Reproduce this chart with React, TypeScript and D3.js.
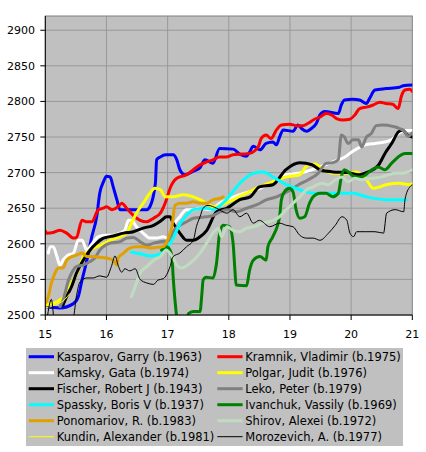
import React from "react";
import * as d3 from "d3";

type P = [number, number];

const kasparov: P[] = [[15.0,2512],[15.24,2510],[15.46,2516],[15.54,2526],[15.6,2549],[15.68,2577],[15.76,2610],[15.84,2638],[15.89,2671],[15.95,2687],[16.0,2695],[16.06,2694],[16.11,2680],[16.17,2662],[16.22,2648],[16.44,2648],[16.66,2648],[16.71,2652],[16.8,2685],[16.82,2718],[16.88,2722],[16.97,2725],[17.09,2725],[17.15,2718],[17.2,2704],[17.28,2697],[17.42,2702],[17.53,2707],[17.61,2718],[17.74,2713],[17.85,2734],[18.07,2733],[18.18,2726],[18.29,2723],[18.34,2729],[18.4,2737],[18.51,2732],[18.61,2741],[18.72,2743],[18.78,2739],[18.83,2750],[18.89,2760],[19.05,2758],[19.13,2767],[19.19,2762],[19.27,2758],[19.35,2762],[19.43,2769],[19.49,2781],[19.57,2786],[19.79,2783],[19.84,2795],[19.89,2802],[20.03,2803],[20.14,2802],[20.25,2797],[20.3,2804],[20.39,2816],[20.57,2818],[20.79,2820],[20.85,2822],[21.0,2823]];
const kramnik: P[] = [[15.0,2618],[15.02,2615],[15.13,2616],[15.24,2619],[15.35,2615],[15.46,2608],[15.51,2609],[15.6,2633],[15.68,2631],[15.76,2631],[15.87,2648],[15.95,2650],[16.0,2652],[16.09,2648],[16.19,2652],[16.25,2657],[16.33,2650],[16.44,2640],[16.55,2633],[16.66,2631],[16.77,2636],[16.88,2643],[16.98,2662],[17.04,2678],[17.15,2692],[17.31,2697],[17.42,2704],[17.53,2711],[17.64,2715],[17.74,2718],[17.85,2722],[17.96,2722],[18.07,2725],[18.23,2726],[18.34,2727],[18.48,2736],[18.53,2748],[18.61,2753],[18.69,2748],[18.78,2760],[18.86,2767],[19.0,2768],[19.1,2766],[19.21,2766],[19.29,2769],[19.4,2775],[19.49,2778],[19.59,2783],[19.68,2781],[19.76,2776],[19.87,2774],[19.98,2775],[20.06,2781],[20.14,2790],[20.25,2792],[20.36,2795],[20.47,2799],[20.57,2797],[20.68,2796],[20.77,2790],[20.82,2807],[20.88,2816],[20.96,2817],[21.0,2814]];
const kamsky: P[] = [[15.05,2587],[15.08,2596],[15.13,2596],[15.19,2582],[15.24,2570],[15.29,2577],[15.37,2584],[15.46,2587],[15.54,2605],[15.6,2605],[15.68,2591],[15.73,2596],[15.87,2610],[15.98,2612],[16.11,2612],[16.22,2615],[16.3,2619],[16.36,2633],[16.41,2633],[16.49,2624],[16.6,2615],[16.71,2608],[16.82,2608],[16.93,2610],[17.04,2605],[17.09,2624],[17.2,2638],[17.31,2648],[17.42,2648],[17.53,2650],[17.69,2648],[17.85,2657],[18.18,2669],[18.51,2678],[18.83,2692],[18.92,2697],[19.14,2699],[19.36,2704],[19.57,2711],[19.79,2718],[19.9,2722],[20.01,2729],[20.23,2739],[20.39,2741],[20.55,2743],[20.66,2746],[20.77,2755],[20.88,2759],[21.0,2759]];
const polgar: P[] = [[15.02,2514],[15.24,2521],[15.35,2530],[15.43,2545],[15.54,2563],[15.62,2582],[15.73,2591],[15.84,2596],[15.98,2601],[16.06,2605],[16.22,2610],[16.33,2615],[16.41,2629],[16.49,2643],[16.6,2657],[16.71,2671],[16.79,2678],[16.88,2676],[16.96,2666],[17.09,2666],[17.26,2669],[17.42,2666],[17.53,2662],[17.64,2657],[17.75,2652],[18.07,2662],[18.29,2671],[18.5,2680],[18.72,2687],[18.94,2694],[19.16,2697],[19.25,2707],[19.32,2711],[19.41,2712],[19.54,2704],[19.7,2699],[19.92,2699],[20.08,2701],[20.25,2690],[20.36,2678],[20.47,2680],[20.57,2683],[20.79,2685],[20.96,2683],[21.0,2685]];
const fischer: P[] = [[15.29,2514],[15.35,2526],[15.43,2540],[15.51,2559],[15.62,2577],[15.73,2591],[15.84,2601],[15.95,2608],[16.11,2611],[16.28,2615],[16.44,2617],[16.6,2622],[16.77,2626],[16.9,2633],[16.98,2638],[17.04,2638],[17.09,2629],[17.2,2615],[17.31,2605],[17.42,2605],[17.53,2610],[17.64,2619],[17.8,2645],[17.97,2650],[18.18,2662],[18.35,2666],[18.5,2680],[18.72,2683],[18.93,2704],[19.16,2714],[19.36,2711],[19.49,2704],[19.7,2701],[19.95,2700],[20.12,2697],[20.28,2701],[20.45,2711],[20.56,2728],[20.67,2742],[20.77,2757],[20.84,2760],[20.92,2753],[21.0,2750]];
const leko: P[] = [[15.24,2512],[15.29,2521],[15.38,2549],[15.43,2559],[15.51,2568],[15.62,2570],[15.73,2575],[15.81,2580],[15.89,2591],[15.98,2598],[16.06,2601],[16.22,2603],[16.33,2608],[16.44,2609],[16.55,2603],[16.66,2598],[16.77,2601],[16.88,2603],[17.04,2605],[17.09,2617],[17.2,2626],[17.31,2631],[17.42,2636],[17.64,2638],[17.75,2640],[17.86,2645],[17.97,2648],[18.13,2645],[18.29,2650],[18.46,2655],[18.62,2662],[18.78,2666],[18.95,2673],[19.14,2683],[19.3,2690],[19.46,2699],[19.59,2713],[19.7,2714],[19.79,2718],[19.84,2753],[19.89,2750],[19.95,2741],[20.03,2746],[20.12,2746],[20.17,2736],[20.25,2750],[20.33,2755],[20.41,2766],[20.52,2767],[20.68,2765],[20.79,2762],[20.88,2757],[20.93,2751],[21.0,2756]];
const spassky: P[] = [[16.41,2588],[16.55,2586],[16.71,2583],[16.88,2586],[16.98,2593],[17.09,2608],[17.2,2628],[17.31,2640],[17.42,2648],[17.64,2650],[17.74,2648],[17.96,2662],[18.18,2685],[18.4,2699],[18.56,2701],[18.72,2694],[18.94,2683],[19.16,2676],[19.38,2671],[19.7,2671],[20.03,2671],[20.25,2666],[20.57,2662],[20.9,2662]];
const ivanchuk: P[] = [[16.9,2591],[16.98,2596],[17.04,2591],[17.07,2582],[17.09,2554],[17.12,2521],[17.15,2496],[17.2,2472],[17.3,2479],[17.34,2502],[17.42,2505],[17.53,2505],[17.56,2530],[17.58,2549],[17.63,2553],[17.74,2552],[17.8,2573],[17.85,2615],[17.91,2626],[18.01,2624],[18.07,2601],[18.1,2563],[18.12,2542],[18.29,2541],[18.34,2563],[18.4,2577],[18.51,2582],[18.61,2577],[18.64,2596],[18.72,2610],[18.83,2638],[18.86,2662],[18.91,2673],[18.99,2678],[19.05,2673],[19.1,2648],[19.16,2636],[19.24,2638],[19.32,2657],[19.38,2666],[19.49,2671],[19.59,2671],[19.7,2666],[19.79,2671],[19.84,2694],[19.89,2704],[19.98,2699],[20.06,2694],[20.17,2694],[20.34,2704],[20.44,2708],[20.55,2704],[20.66,2713],[20.77,2722],[20.88,2727],[21.0,2727]];
const ponomariov: P[] = [[15.0,2516],[15.05,2526],[15.1,2545],[15.16,2559],[15.21,2566],[15.29,2566],[15.35,2577],[15.43,2582],[15.51,2584],[15.6,2587],[15.68,2582],[15.78,2582],[15.89,2581],[16.0,2580],[16.11,2577],[16.17,2570],[16.19,2580],[16.28,2587],[16.38,2594],[16.49,2596],[16.6,2596],[16.71,2594],[16.82,2595],[16.93,2596],[17.01,2608],[17.07,2624],[17.12,2654],[17.2,2657],[17.31,2657],[17.42,2659],[17.53,2657],[17.64,2657],[17.75,2662],[17.86,2664],[17.91,2666]];
const shirov: P[] = [[16.41,2526],[16.47,2540],[16.55,2559],[16.66,2568],[16.77,2577],[16.88,2582],[16.98,2591],[17.09,2580],[17.15,2570],[17.23,2566],[17.37,2573],[17.53,2587],[17.64,2601],[17.74,2615],[17.83,2622],[17.88,2610],[17.97,2624],[18.07,2619],[18.18,2617],[18.29,2622],[18.4,2624],[18.56,2629],[18.72,2633],[18.83,2638],[18.94,2648],[19.05,2657],[19.16,2666],[19.27,2676],[19.38,2680],[19.52,2685],[19.63,2683],[19.74,2690],[19.85,2694],[19.95,2687],[20.06,2692],[20.17,2690],[20.34,2692],[20.5,2694],[20.61,2697],[20.72,2699],[20.83,2699],[20.93,2701],[21.0,2704]];
const kundin: P[] = [[15.0,2510],[15.16,2514],[15.32,2522],[15.4,2530]];
const morozevich: P[] = [[15.03,2495],[15.1,2522],[15.15,2490],[15.3,2480],[15.46,2497],[15.51,2527],[15.57,2547],[15.68,2552],[15.78,2552],[15.89,2555],[16.0,2553],[16.08,2568],[16.14,2583],[16.19,2570],[16.25,2560],[16.3,2565],[16.38,2562],[16.47,2565],[16.55,2550],[16.66,2545],[16.77,2543],[16.84,2549],[16.93,2551],[17.04,2568],[17.09,2582],[17.2,2587],[17.31,2596],[17.42,2605],[17.47,2624],[17.53,2638],[17.58,2650],[17.66,2654],[17.8,2650],[17.97,2643],[18.07,2648],[18.18,2638],[18.29,2643],[18.4,2629],[18.5,2633],[18.67,2624],[18.83,2629],[18.94,2626],[19.05,2624],[19.16,2612],[19.27,2608],[19.38,2608],[19.49,2605],[19.63,2615],[19.74,2626],[19.85,2638],[19.93,2633],[19.98,2615],[20.04,2610],[20.09,2617],[20.23,2617],[20.39,2617],[20.53,2615],[20.58,2643],[20.72,2648],[20.86,2645],[20.88,2662],[20.96,2680],[21.0,2683]];

const names = [
  "Kasparov, Garry (b.1963)", "Kramnik, Vladimir (b.1975)",
  "Kamsky, Gata (b.1974)", "Polgar, Judit (b.1976)",
  "Fischer, Robert J (b.1943)", "Leko, Peter (b.1979)",
  "Spassky, Boris V (b.1937)", "Ivanchuk, Vassily (b.1969)",
  "Ponomariov, R. (b.1983)", "Shirov, Alexei (b.1972)",
  "Kundin, Alexander (b.1981)", "Morozevich, A. (b.1977)",
];
const seriesData: P[][] = [kasparov, kramnik, kamsky, polgar, fischer, leko, spassky, ivanchuk, ponomariov, shirov, kundin, morozevich];
const colors = ["#0000ff", "#ff0000", "#ffffff", "#ffff00", "#000000", "#808080", "#00ffff", "#008000", "#e0a000", "#c0dcc0", "#ffff00", "#000000"];
const widths = [3, 3, 3, 3, 3, 3, 3, 3, 3, 3, 1, 1];

const xTicks = [15, 16, 17, 18, 19, 20, 21];
const yTicks = [2500, 2550, 2600, 2650, 2700, 2750, 2800, 2850, 2900];

const W = 426, H = 452;
const L = 45.3, R = 412.3, T = 16, B = 315;
const FONT = "DejaVu Sans, sans-serif";

export default function App() {
  const x = d3.scaleLinear().domain([15, 21]).range([L, R]);
  const y = d3.scaleLinear().domain([2500, 2920]).range([B, T]);
  const line = d3.line<P>().x(d => x(d[0])).y(d => y(d[1])).curve(d3.curveMonotoneX);

  return (
    <svg width={W} height={H} style={{ position: "absolute", left: 0, top: 0, background: "#fff" }} fontFamily={FONT}>
      <defs>
        <clipPath id="plotclip">
          <rect x={L} y={T} width={R - L} height={B - T} />
        </clipPath>
      </defs>
      <rect x={L} y={T} width={R - L} height={B - T} fill="#c0c0c0" />
      {xTicks.slice(1, -1).map(t => (
        <line key={"gx" + t} x1={x(t)} x2={x(t)} y1={T} y2={B} stroke="#999999" strokeWidth={1} />
      ))}
      {yTicks.slice(1).map(t => (
        <line key={"gy" + t} x1={L} x2={R} y1={y(t)} y2={y(t)} stroke="#999999" strokeWidth={1} />
      ))}
      <rect x={L} y={T} width={R - L} height={B - T} fill="none" stroke="#808080" strokeWidth={1} />
      <g clipPath="url(#plotclip)">
        {seriesData.map((s, i) => (
          <path key={i} d={line(s) || ""} fill="none" stroke={colors[i]} strokeWidth={widths[i]} strokeLinejoin="round" strokeLinecap="round" />
        ))}
      </g>
      <line x1={L} x2={L} y1={T} y2={B} stroke="#000" strokeWidth={1} />
      <line x1={L} x2={R} y1={B} y2={B} stroke="#000" strokeWidth={1} />
      {yTicks.map(t => (
        <g key={"ty" + t}>
          <line x1={L - 5} x2={L} y1={y(t)} y2={y(t)} stroke="#000" />
          <text x={35} y={y(t) + 4} textAnchor="end" fontSize={11} fill="#000">{t}</text>
        </g>
      ))}
      {xTicks.map(t => (
        <g key={"tx" + t}>
          <line x1={x(t)} x2={x(t)} y1={B} y2={B + 5} stroke="#000" />
          <text x={x(t)} y={338} textAnchor="middle" fontSize={11} fill="#000">{t}</text>
        </g>
      ))}
      <rect x={26} y={348} width={377} height={98} fill="#c0c0c0" />
      {names.map((n, i) => {
        const col = i % 2;
        const row = Math.floor(i / 2);
        const lx = col === 0 ? 28.7 : 217.3;
        const cy = 356.7 + row * 16;
        return (
          <g key={n}>
            <line x1={lx} x2={lx + 25.3} y1={cy} y2={cy} stroke={colors[i]} strokeWidth={widths[i]} />
            <text x={lx + 28} y={cy + 4} fontSize={11.5} fill="#000">{n}</text>
          </g>
        );
      })}
    </svg>
  );
}
